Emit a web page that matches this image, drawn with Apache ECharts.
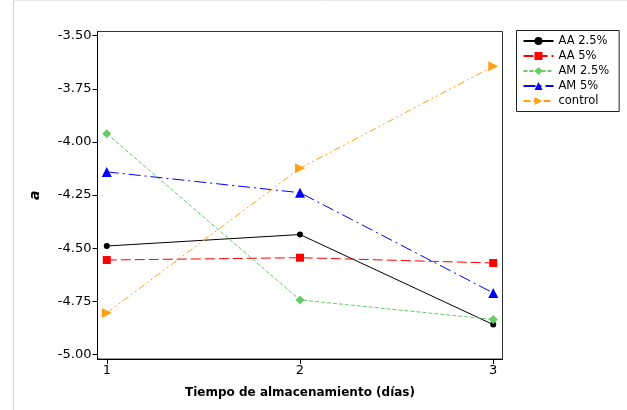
<!DOCTYPE html>
<html>
<head>
<meta charset="utf-8">
<script src="https://cdn.jsdelivr.net/npm/echarts@6/dist/echarts.min.js"></script>
<style>
  html, body { margin: 0; padding: 0; background: #fff; }
  #chart { width: 627px; height: 410px; }
</style>
</head>
<body>
<div id="chart"></div>
<script>
// storage days on the x axis
var dias = [1, 2, 3];
var yTicks = [-3.5, -3.75, -4.0, -4.25, -4.5, -4.75, -5.0];

var aa25 = [-4.49, -4.436, -4.86];
var aa5 = [-4.556, -4.545, -4.57];
var am25 = [-3.961, -4.744, -4.836];
var am5 = [-4.141, -4.239, -4.711];
var control = [-4.805, -4.124, -3.644];

var seriesDefs = [
    {name: 'AA 2.5%', vals: aa25, color: '#000000', symbol: 'circle', size: 6, dash: 'solid', rot: 0},
    {name: 'AA 5%', vals: aa5, color: '#ff0000', symbol: 'rect', size: 8, dash: [10, 4], rot: 0},
    {name: 'AM 2.5%', vals: am25, color: '#66cc66', symbol: 'diamond', size: 9, dash: [4, 2], rot: 0},
    {name: 'AM 5%', vals: am5, color: '#0000ff', symbol: 'triangle', size: 10, dash: [12, 4, 2, 4], rot: 0},
    {name: 'control', vals: control, color: '#ffa010', symbol: 'triangle', size: 10, dash: [7, 3, 2, 3, 2, 3], rot: -90}
];

function pairs(vals) {
    var out = [];
    for (var i = 0; i < dias.length; i++) {
        out.push([dias[i], vals[i]]);
    }
    return out;
}

var chart = echarts.init(document.getElementById('chart'), null, {renderer: 'canvas'});

var option = {
    animation: false,
    backgroundColor: '#ffffff',
    textStyle: {fontFamily: 'DejaVu Sans'},
    grid: {
        left: 97.5,
        right: 124.5,
        top: 31.5,
        bottom: 51,
        show: true,
        borderColor: '#333333',
        borderWidth: 1
    },
    graphic: [
        {type: 'line', shape: {x1: 13.5, y1: 0, x2: 13.5, y2: 410}, style: {stroke: '#d4d4d4', lineWidth: 1}},
        {type: 'line', shape: {x1: 13.5, y1: 0.5, x2: 627, y2: 0.5}, style: {stroke: '#e6e6e6', lineWidth: 1}}
    ],
    xAxis: {
        type: 'value',
        min: 0.952,
        max: 3.048,
        name: 'Tiempo de almacenamiento (días)',
        nameLocation: 'middle',
        nameGap: 28,
        nameTextStyle: {fontWeight: 'bold', fontSize: 12, color: '#000'},
        axisLine: {show: true, lineStyle: {color: '#000', width: 1}},
        axisTick: {show: true, inside: false, length: 5, customValues: dias, lineStyle: {color: '#000'}},
        axisLabel: {customValues: dias, fontSize: 13, color: '#000', margin: 5},
        splitLine: {show: false}
    },
    yAxis: {
        type: 'value',
        min: -5.022,
        max: -3.48,
        name: 'a',
        nameLocation: 'middle',
        nameRotate: 90,
        nameGap: 55,
        nameTextStyle: {fontWeight: 'bold', fontStyle: 'italic', fontSize: 14, color: '#000'},
        axisLine: {show: true, lineStyle: {color: '#000', width: 1}},
        axisTick: {show: true, inside: false, length: 5, customValues: yTicks, lineStyle: {color: '#000'}},
        axisLabel: {
            customValues: yTicks,
            fontSize: 13,
            color: '#000',
            margin: 6,
            formatter: function(v) { return v.toFixed(2); }
        },
        splitLine: {show: false}
    },
    legend: {
        orient: 'vertical',
        left: 516.5,
        top: 30.5,
        itemWidth: 30,
        itemHeight: 10,
        itemGap: 2,
        padding: [4, 10, 4, 6],
        borderColor: '#222',
        borderWidth: 1,
        textStyle: {fontSize: 11.5, lineHeight: 13, color: '#000'},
        data: seriesDefs.map(function(s) { return s.name; })
    },
    series: seriesDefs.map(function(s) {
        return {
            type: 'line',
            name: s.name,
            data: pairs(s.vals),
            symbol: s.symbol,
            symbolSize: s.size,
            symbolRotate: s.rot,
            showAllSymbol: true,
            itemStyle: {color: s.color},
            lineStyle: {color: s.color, width: 1, type: s.dash}
        };
    })
};

chart.setOption(option);
</script>
</body>
</html>
